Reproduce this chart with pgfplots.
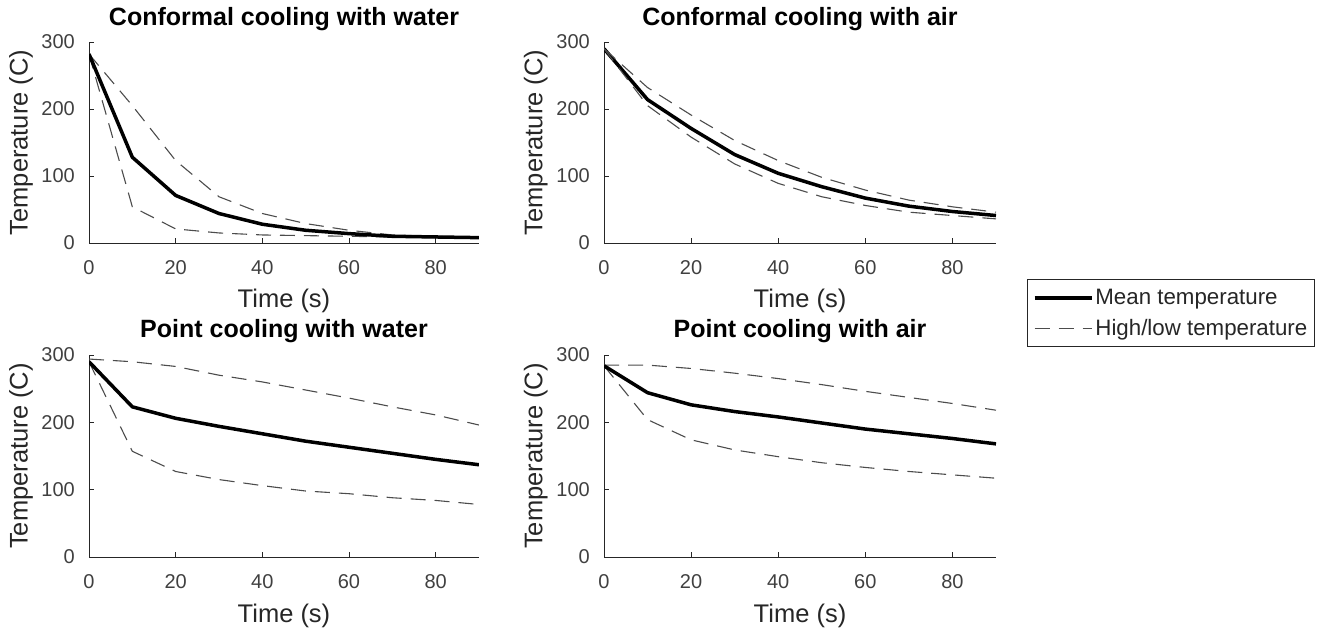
\documentclass[border=0pt]{standalone}
\usepackage{fontspec}
\setmainfont{Liberation Sans}
\usepackage{pgfplots}
\pgfplotsset{compat=1.18}
\definecolor{axc}{gray}{0.15}
\definecolor{tlc}{gray}{0.25}
\definecolor{dsc}{gray}{0.3}
\pgfplotsset{
  sub/.style={
    scale only axis,
    xmin=0,xmax=90,ymin=0,ymax=300,
    xtick={0,20,40,60,80}, ytick={0,100,200,300},
    axis x line*=bottom, axis y line*=left,
    axis line style={axc,line width=0.9pt,-},
    tick align=inside, major tick length=5pt,
    tick style={axc,line width=0.9pt},
    /pgf/number format/assume math mode=true,
    ticklabel style={font=\fontsize{20}{24}\selectfont, text=tlc, inner sep=0pt},
    xticklabel style={anchor=base, yshift=-32pt},
    yticklabel style={anchor=east, xshift=-14pt},
    label style={font=\fontsize{25.5}{30}\selectfont, text=axc, inner sep=0pt},
    xlabel={Time (s)},
    ylabel={Temperature (C)},
    xlabel style={at={(axis description cs:0.5,-0.323)}, anchor=base},
    ylabel style={at={(axis description cs:-0.174,0.5)}, anchor=center, rotate=0},
    title style={font=\fontsize{25}{30}\selectfont\bfseries, inner sep=0pt, anchor=base},
  },
  mean/.style={black, line width=3.5pt, line join=round},
  hl/.style={dsc, line width=1.1pt, dash pattern=on 15pt off 9pt},
}
\begin{document}
\begin{tikzpicture}[x=1pt,y=1pt]
\useasboundingbox (0,0) rectangle (1326,632);
% Top left
\begin{axis}[sub, at={(89pt,389pt)}, anchor=south west, width=390pt, height=201pt,
  title={Conformal cooling with water}, title style={at={(axis description cs:0.5,1.05)}}]
\addplot[hl] coordinates {(0,282)(10,205)(20,123)(30,69)(40,44)(50,29)(60,19)(70,12)(80,10)(90,9)};
\addplot[hl] coordinates {(0,282)(10,54)(20,21)(30,15)(40,12)(50,11)(60,10)(70,9)(80,8)(90,8)};
\addplot[mean] coordinates {(0,282)(10,128)(20,71)(30,44)(40,28)(50,19)(60,14)(70,10)(80,9)(90,8)};
\end{axis}
% Top right
\begin{axis}[sub, at={(604pt,389pt)}, anchor=south west, width=392pt, height=201pt,
  title={Conformal cooling with air}, title style={at={(axis description cs:0.5,1.05)}},
  legend style={at={(axis description cs:1.079,-0.179)}, anchor=north west,
    draw=axc, line width=0.9pt, font=\fontsize{22.3}{26}\selectfont, text=axc,
    inner xsep=5.5pt, inner ysep=8pt, row sep=9pt, cells={anchor=west}},
  legend image code/.code={\draw[#1] (0pt,0pt) -- (57pt,0pt);}]
\addplot[mean] coordinates {(0,290)(10,214)(20,171)(30,132)(40,104)(50,84)(60,67)(70,55)(80,47)(90,41)};
\addlegendentry{Mean temperature}
\addplot[hl] coordinates {(0,290)(10,232)(20,191)(30,153)(40,123)(50,98)(60,79)(70,64)(80,54)(90,46)};
\addlegendentry{High/low temperature}
\addplot[hl, forget plot] coordinates {(0,290)(10,205)(20,158)(30,118)(40,89)(50,69)(60,56)(70,46)(80,41)(90,36)};
\end{axis}
% Bottom left
\begin{axis}[sub, at={(89pt,75pt)}, anchor=south west, width=390pt, height=202pt,
  title={Point cooling with water}, title style={at={(axis description cs:0.5,1.059)}}]
\addplot[hl] coordinates {(0,294)(10,290)(20,283)(30,270)(40,260)(50,248)(60,236)(70,223)(80,211)(90,196)};
\addplot[hl] coordinates {(0,290)(10,157)(20,127)(30,115)(40,106)(50,98)(60,94)(70,88)(80,84)(90,78)};
\addplot[mean] coordinates {(0,290)(10,223)(20,206)(30,194)(40,183)(50,172)(60,163)(70,154)(80,145)(90,137)};
\end{axis}
% Bottom right
\begin{axis}[sub, at={(604pt,75pt)}, anchor=south west, width=392pt, height=202pt,
  title={Point cooling with air}, title style={at={(axis description cs:0.5,1.059)}}]
\addplot[hl] coordinates {(0,285)(10,285)(20,280)(30,273)(40,265)(50,256)(60,246)(70,237)(80,228)(90,218)};
\addplot[hl] coordinates {(0,284)(10,204)(20,174)(30,159)(40,149)(50,140)(60,133)(70,127)(80,122)(90,117)};
\addplot[mean] coordinates {(0,284)(10,244)(20,226)(30,216)(40,208)(50,199)(60,190)(70,183)(80,176)(90,168)};
\end{axis}
\end{tikzpicture}
\end{document}
